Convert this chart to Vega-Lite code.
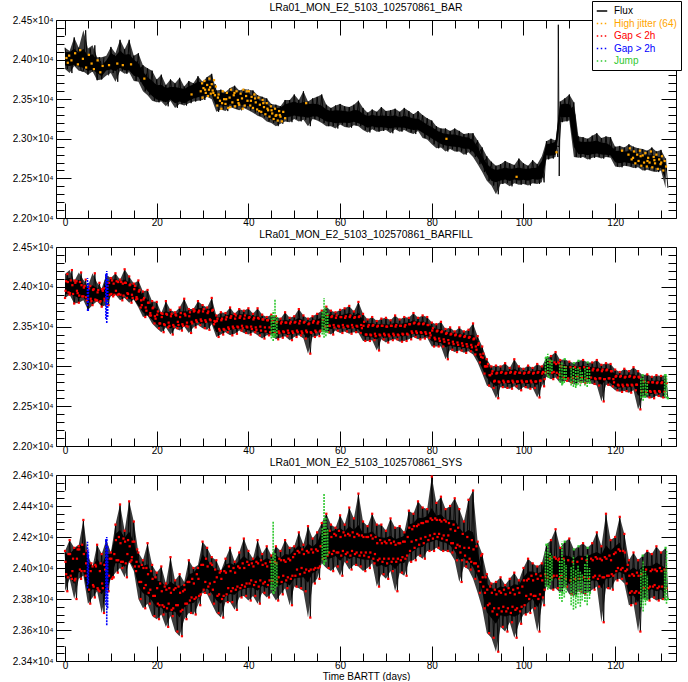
{
  "$schema": "https://vega.github.io/schema/vega-lite/v6.json",
  "background": "white",
  "padding": {"left": 12, "top": 0, "right": 0, "bottom": 0},
  "bounds": "flush",
  "spacing": 29,
  "config": {
    "view": {"stroke": null},
    "font": "Liberation Sans",
    "axis": {"labelFont": "Liberation Sans", "labelFontSize": 10, "labelColor": "black", "domainColor": "black", "tickColor": "black", "grid": false, "title": null, "domainWidth": 1, "tickWidth": 1},
    "title": {"font": "Liberation Sans", "fontSize": 10.4, "fontWeight": "normal", "color": "black", "offset": 2}
  },
  "datasets": {
    "flux": [
      {"t":0,"a":24150,"b":23860,"c":24110},{"t":0.5,"a":23880,"b":24160,"c":23850},{"t":1,"a":24090,"b":23900,"c":24180},{"t":1.5,"a":23830,"b":24210,"c":23930},
      {"t":2,"a":24280,"b":23790,"c":24130},{"t":2.5,"a":23940,"b":24070,"c":23800},{"t":3,"a":24150,"b":23800,"c":24140},{"t":3.5,"a":23860,"b":24180,"c":23930},
      {"t":4,"a":23850,"b":23880,"c":24310},{"t":4.5,"a":24370,"b":24090,"c":23950},{"t":5,"a":23810,"b":23710,"c":24080,"k":"Gap > 2h"},{"t":5.5,"a":24140,"b":24010,"c":23770},
      {"t":6,"a":23850,"b":23770,"c":24010},{"t":6.5,"a":24180,"b":24170,"c":23810},{"t":7,"a":23740,"b":23830,"c":24150},{"t":7.5,"a":24030,"b":24050,"c":23850},
      {"t":8,"a":23750,"b":23750,"c":24090},{"t":8.5,"a":24030,"b":23980,"c":23710},{"t":9,"a":null,"b":24150,"c":24180,"k":"Gap > 2h"},{"t":9.5,"a":23800,"b":23770,"c":23850},
      {"t":10,"a":24160,"b":24110,"c":24100},{"t":10.5,"a":23830,"b":23880,"c":23940},{"t":11,"a":24030,"b":24170,"c":24280},{"t":11.5,"a":23720,"b":23900,"c":23970},
      {"t":12,"a":24250,"b":24090,"c":24410},{"t":12.5,"a":23860,"b":23830,"c":24000},{"t":13,"a":24130,"b":24220,"c":24240},{"t":13.5,"a":23820,"b":23860,"c":23940},
      {"t":14,"a":24250,"b":24130,"c":24430},{"t":14.5,"a":23840,"b":23800,"c":24050},{"t":15,"a":24050,"b":24040,"c":24300},{"t":15.5,"a":23730,"b":23840,"c":23980},
      {"t":16,"a":24080,"b":24080,"c":24100},{"t":16.5,"a":23720,"b":23740,"c":23800},{"t":17,"a":23930,"b":23940,"c":24050},{"t":17.5,"a":23600,"b":23620,"c":23740},
      {"t":18,"a":23890,"b":23960,"c":24160},{"t":18.5,"a":23550,"b":23640,"c":23770},{"t":19,"a":23860,"b":23820,"c":24020},{"t":19.5,"a":23480,"b":23540,"c":23690},
      {"t":20,"a":23750,"b":23810,"c":23970},{"t":20.5,"a":23460,"b":23480,"c":23670},{"t":21,"a":23810,"b":23670,"c":24010},{"t":21.5,"a":23470,"b":23430,"c":23700},
      {"t":22,"a":23680,"b":23820,"c":23900},{"t":22.5,"a":23410,"b":23490,"c":23620},{"t":23,"a":23750,"b":23710,"c":24070},{"t":23.5,"a":23480,"b":23400,"c":23690},
      {"t":24,"a":23700,"b":23680,"c":23920},{"t":24.5,"a":23390,"b":23480,"c":23590},{"t":25,"a":23770,"b":23740,"c":23960},{"t":25.5,"a":23440,"b":23450,"c":23560},
      {"t":26,"a":23660,"b":23850,"c":23890},{"t":26.5,"a":23420,"b":23510,"c":23670},{"t":27,"a":23730,"b":23720,"c":24050},{"t":27.5,"a":23450,"b":23420,"c":23710},
      {"t":28,"a":23700,"b":23720,"c":24000},{"t":28.5,"a":23470,"b":23490,"c":23700},{"t":29,"a":23790,"b":23820,"c":24000},{"t":29.5,"a":23480,"b":23520,"c":23760},
      {"t":30,"a":23720,"b":23770,"c":24170},{"t":30.5,"a":23490,"b":23480,"c":23840},{"t":31,"a":23780,"b":23740,"c":24130},{"t":31.5,"a":23530,"b":23460,"c":23830},
      {"t":32,"a":23820,"b":23860,"c":24070},{"t":32.5,"a":23500,"b":23530,"c":23770},{"t":33,"a":23610,"b":23640,"c":24050},{"t":33.5,"a":23340,"b":23370,"c":23710},
      {"t":34,"a":23620,"b":23680,"c":23980},{"t":34.5,"a":23370,"b":23400,"c":23680},{"t":35,"a":23590,"b":23670,"c":24060},{"t":35.5,"a":23350,"b":23430,"c":23780},
      {"t":36,"a":23640,"b":23740,"c":24130},{"t":36.5,"a":23400,"b":23390,"c":23780},{"t":37,"a":23670,"b":23660,"c":24040},{"t":37.5,"a":23380,"b":23410,"c":23730},
      {"t":38,"a":23610,"b":23720,"c":24100},{"t":38.5,"a":23360,"b":23450,"c":23810},{"t":39,"a":23630,"b":23700,"c":24190},{"t":39.5,"a":23390,"b":23420,"c":23820},
      {"t":40,"a":23620,"b":23730,"c":24110},{"t":40.5,"a":23360,"b":23400,"c":23790},{"t":41,"a":23610,"b":23660,"c":24060},{"t":41.5,"a":23330,"b":23430,"c":23820},
      {"t":42,"a":23550,"b":23730,"c":24180},{"t":42.5,"a":23290,"b":23390,"c":23770},{"t":43,"a":23530,"b":23650,"c":24090},{"t":43.5,"a":23270,"b":23350,"c":23840},
      {"t":44,"a":23510,"b":23620,"c":24140},{"t":44.5,"a":23220,"b":23390,"c":23810},{"t":45,"a":23440,"b":23650,"c":24080},{"t":45.5,"a":23200,"b":23390,"c":23840,"k":"Jump"},
      {"t":46,"a":23430,"b":23630,"c":24140},{"t":46.5,"a":23160,"b":23340,"c":23790},{"t":47,"a":23410,"b":23600,"c":24110},{"t":47.5,"a":23190,"b":23360,"c":23830},
      {"t":48,"a":23490,"b":23680,"c":24180},{"t":48.5,"a":23220,"b":23380,"c":23870},{"t":49,"a":23490,"b":23610,"c":24130},{"t":49.5,"a":23210,"b":23330,"c":23760},
      {"t":50,"a":23560,"b":23630,"c":24140},{"t":50.5,"a":23250,"b":23370,"c":23880},{"t":51,"a":23490,"b":23720,"c":24230},{"t":51.5,"a":23220,"b":23390,"c":23870},
      {"t":52,"a":23600,"b":23640,"c":24150},{"t":52.5,"a":23240,"b":23350,"c":23850},{"t":53,"a":23470,"b":23600,"c":24270},{"t":53.5,"a":23160,"b":23160,"c":23680},
      {"t":54,"a":23510,"b":23630,"c":24190},{"t":54.5,"a":23250,"b":23370,"c":23900},{"t":55,"a":23530,"b":23660,"c":24230},{"t":55.5,"a":23230,"b":23380,"c":23930},
      {"t":56,"a":23560,"b":23700,"c":24290},{"t":56.5,"a":23200,"b":23440,"c":24030,"k":"Jump"},{"t":57,"a":23430,"b":23750,"c":24350},{"t":57.5,"a":23160,"b":23430,"c":24000},
      {"t":58,"a":23390,"b":23700,"c":24280},{"t":58.5,"a":23160,"b":23400,"c":23980},{"t":59,"a":23420,"b":23680,"c":24260},{"t":59.5,"a":23130,"b":23450,"c":24010},
      {"t":60,"a":23440,"b":23710,"c":24340},{"t":60.5,"a":23180,"b":23420,"c":23950},{"t":61,"a":23410,"b":23730,"c":24280},{"t":61.5,"a":23150,"b":23440,"c":24040},
      {"t":62,"a":23400,"b":23760,"c":24390},{"t":62.5,"a":23140,"b":23410,"c":23990},{"t":63,"a":23430,"b":23690,"c":24320},{"t":63.5,"a":23170,"b":23430,"c":24020},
      {"t":64,"a":23480,"b":23810,"c":24480},{"t":64.5,"a":23160,"b":23420,"c":24010},{"t":65,"a":23390,"b":23660,"c":24300},{"t":65.5,"a":23110,"b":23320,"c":23980},
      {"t":66,"a":23330,"b":23590,"c":24270},{"t":66.5,"a":23080,"b":23320,"c":24000},{"t":67,"a":23370,"b":23620,"c":24350},{"t":67.5,"a":23120,"b":23330,"c":24030},
      {"t":68,"a":23340,"b":23570,"c":24280},{"t":68.5,"a":23090,"b":23200,"c":23880},{"t":69,"a":23400,"b":23600,"c":24280},{"t":69.5,"a":23100,"b":23340,"c":23960},
      {"t":70,"a":23350,"b":23610,"c":24240},{"t":70.5,"a":23110,"b":23300,"c":23930},{"t":71,"a":23360,"b":23580,"c":24320},{"t":71.5,"a":23070,"b":23330,"c":23980},
      {"t":72,"a":23380,"b":23640,"c":24260},{"t":72.5,"a":23120,"b":23340,"c":23850},{"t":73,"a":23340,"b":23590,"c":24270},{"t":73.5,"a":23090,"b":23310,"c":23970},
      {"t":74,"a":23390,"b":23620,"c":24230},{"t":74.5,"a":23110,"b":23320,"c":23950},{"t":75,"a":23350,"b":23610,"c":24370},{"t":75.5,"a":23080,"b":23340,"c":24040},
      {"t":76,"a":23310,"b":23670,"c":24350},{"t":76.5,"a":23060,"b":23370,"c":24050},{"t":77,"a":23350,"b":23610,"c":24430},{"t":77.5,"a":23100,"b":23340,"c":24080},
      {"t":78,"a":23300,"b":23640,"c":24390},{"t":78.5,"a":23010,"b":23350,"c":24060},{"t":79,"a":23260,"b":23620,"c":24380},{"t":79.5,"a":22990,"b":23360,"c":24110},
      {"t":80,"a":23230,"b":23550,"c":24590},{"t":80.5,"a":22930,"b":23250,"c":24110},{"t":81,"a":23160,"b":23530,"c":24420},{"t":81.5,"a":22880,"b":23250,"c":24130},
      {"t":82,"a":23130,"b":23560,"c":24460},{"t":82.5,"a":22890,"b":23250,"c":24110},{"t":83,"a":23130,"b":23470,"c":24380},{"t":83.5,"a":22840,"b":23090,"c":24110},
      {"t":84,"a":23100,"b":23490,"c":24400},{"t":84.5,"a":22870,"b":23210,"c":24100},{"t":85,"a":23130,"b":23440,"c":24450},{"t":85.5,"a":22840,"b":23180,"c":24050},
      {"t":86,"a":23100,"b":23490,"c":24380},{"t":86.5,"a":22840,"b":23200,"c":23910},{"t":87,"a":23060,"b":23440,"c":24300},{"t":87.5,"a":22800,"b":23170,"c":24010},
      {"t":88,"a":23070,"b":23460,"c":24440},{"t":88.5,"a":22830,"b":23190,"c":23990},{"t":89,"a":23070,"b":23540,"c":24500},{"t":89.5,"a":22770,"b":23150,"c":23930},
      {"t":90,"a":22980,"b":23380,"c":24170},{"t":90.5,"a":22680,"b":23050,"c":23840},{"t":91,"a":22890,"b":23250,"c":24090},{"t":91.5,"a":22580,"b":22910,"c":23740},
      {"t":92,"a":22780,"b":23090,"c":23960},{"t":92.5,"a":22470,"b":22760,"c":23580},{"t":93,"a":22710,"b":23000,"c":23900},{"t":93.5,"a":22410,"b":22730,"c":23550},
      {"t":94,"a":22660,"b":23010,"c":23910},{"t":94.5,"a":22300,"b":22600,"c":23460},{"t":95,"a":22680,"b":23000,"c":23940},{"t":95.5,"a":22430,"b":22740,"c":23620},
      {"t":96,"a":22720,"b":23040,"c":23890},{"t":96.5,"a":22440,"b":22730,"c":23590},{"t":97,"a":22690,"b":22980,"c":23930},{"t":97.5,"a":22400,"b":22720,"c":23650},
      {"t":98,"a":22670,"b":23090,"c":23970},{"t":98.5,"a":22440,"b":22750,"c":23550},{"t":99,"a":22750,"b":23000,"c":23920},{"t":99.5,"a":22420,"b":22700,"c":23640},
      {"t":100,"a":22690,"b":22970,"c":24000},{"t":100.5,"a":22430,"b":22740,"c":23700},{"t":101,"a":22660,"b":23010,"c":24060},{"t":101.5,"a":22410,"b":22720,"c":23710},
      {"t":102,"a":22730,"b":22980,"c":24030},{"t":102.5,"a":22440,"b":22730,"c":23740},{"t":103,"a":22680,"b":23030,"c":24010},{"t":103.5,"a":22430,"b":22610,"c":23590},
      {"t":104,"a":22700,"b":23000,"c":24030},{"t":104.5,"a":22450,"b":22750,"c":23760},{"t":105,"a":22970,"b":23110,"c":24150,"k":"Jump"},{"t":105.5,"a":22740,"b":22870,"c":23880,"k":"Jump"},
      {"t":106,"a":23000,"b":23130,"c":24180},{"t":106.5,"a":22750,"b":22840,"c":23860},{"t":107,"a":22980,"b":23180,"c":24250},{"t":107.5,"a":22770,"b":22860,"c":23870},
      {"t":107.6,"a":24440,"b":23050,"c":24050},{"t":107.8,"a":22530,"b":22900,"c":23930},
      {"t":108,"a":23470,"b":23080,"c":24130},{"t":108.5,"a":23210,"b":22790,"c":23840,"k":"Jump"},{"t":109,"a":23510,"b":23090,"c":24170,"k":"Jump"},{"t":109.5,"a":23220,"b":22820,"c":23880},
      {"t":110,"a":23560,"b":23060,"c":24190},{"t":110.5,"a":23230,"b":22800,"c":23830},{"t":111,"a":23460,"b":23040,"c":24120,"k":"Jump"},{"t":111.5,"a":22770,"b":22770,"c":23820,"k":"Jump"},
      {"t":112,"a":23030,"b":23070,"c":24140,"k":"Jump"},{"t":112.5,"a":22760,"b":22800,"c":23850},{"t":113,"a":23020,"b":23080,"c":24160},{"t":113.5,"a":22770,"b":22790,"c":23830},
      {"t":114,"a":23000,"b":23050,"c":24130,"k":"Jump"},{"t":114.5,"a":22740,"b":22800,"c":23840,"k":"Jump"},{"t":115,"a":23040,"b":23050,"c":24160},{"t":115.5,"a":22760,"b":22780,"c":23860},
      {"t":116,"a":23070,"b":23080,"c":24230},{"t":116.5,"a":22770,"b":22760,"c":23880},{"t":117,"a":23010,"b":23020,"c":24140},{"t":117.5,"a":22750,"b":22560,"c":23650},
      {"t":118,"a":23030,"b":23040,"c":24350},{"t":118.5,"a":22770,"b":22770,"c":23870},{"t":119,"a":23020,"b":23030,"c":24180},{"t":119.5,"a":22760,"b":22750,"c":23860},
      {"t":120,"a":22900,"b":22960,"c":24200},{"t":120.5,"a":22650,"b":22700,"c":23920},{"t":121,"a":22910,"b":22930,"c":24330},{"t":121.5,"a":22640,"b":22680,"c":23930},
      {"t":122,"a":22890,"b":22970,"c":24220},{"t":122.5,"a":22660,"b":22690,"c":23900},{"t":123,"a":22930,"b":22940,"c":24050},{"t":123.5,"a":22650,"b":22670,"c":23760},
      {"t":124,"a":22900,"b":22990,"c":24100},{"t":124.5,"a":22630,"b":22700,"c":23770},{"t":125,"a":22880,"b":22940,"c":24050},{"t":125.5,"a":22640,"b":22460,"c":23590},
      {"t":126,"a":22870,"b":22890,"c":24080,"k":"Jump"},{"t":126.5,"a":22600,"b":22620,"c":23800,"k":"Jump"},{"t":127,"a":22850,"b":22900,"c":24110},{"t":127.5,"a":22610,"b":22610,"c":23790},
      {"t":128,"a":22890,"b":22870,"c":24090},{"t":128.5,"a":22590,"b":22600,"c":23810},{"t":129,"a":22840,"b":22890,"c":24140},{"t":129.5,"a":22580,"b":22630,"c":23790},
      {"t":130,"a":22860,"b":22880,"c":24100},{"t":130.5,"a":22600,"b":22610,"c":23800},{"t":131,"a":22750,"b":22890,"c":24130,"k":"Jump"},{"t":131.5,"a":22380,"b":22600,"c":23800,"k":"Jump"},

      {"s":2,"t":0.25,"a":23940,"b":24070,"c":23960},{"s":2,"t":0.75,"a":24080,"b":23930,"c":24090},{"s":2,"t":1.25,"a":23950,"b":24080,"c":23950},{"s":2,"t":1.75,"a":24110,"b":23910,"c":24060},
      {"s":2,"t":2.25,"a":23920,"b":24050,"c":23930},{"s":2,"t":2.75,"a":24090,"b":23920,"c":24120},{"s":2,"t":3.25,"a":23930,"b":24060,"c":23990},{"s":2,"t":3.75,"a":24060,"b":23880,"c":24150},
      {"s":2,"t":4.25,"a":23910,"b":24010,"c":23980},{"s":2,"t":4.75,"a":24060,"b":23830,"c":24110},{"s":2,"t":5.25,"a":23870,"b":23980,"c":23860},{"s":2,"t":5.75,"a":24020,"b":23820,"c":24030},
      {"s":2,"t":6.25,"a":23880,"b":23970,"c":23880},{"s":2,"t":6.75,"a":24030,"b":23830,"c":24010},{"s":2,"t":7.25,"a":23860,"b":23960,"c":23860},{"s":2,"t":7.75,"a":23980,"b":23820,"c":24030},
      {"s":2,"t":8.25,"a":23830,"b":23950,"c":23870},{"s":2,"t":8.75,"a":null,"b":23830,"c":23990},{"s":2,"t":9.25,"a":null,"b":24010,"c":23880},{"s":2,"t":9.75,"a":24050,"b":23900,"c":24060},
      {"s":2,"t":10.25,"a":23890,"b":24080,"c":23930},{"s":2,"t":10.75,"a":24060,"b":23900,"c":24090},{"s":2,"t":11.25,"a":23900,"b":24070,"c":24050},{"s":2,"t":11.75,"a":24080,"b":23910,"c":24200},
      {"s":2,"t":12.25,"a":23910,"b":24060,"c":24040},{"s":2,"t":12.75,"a":24070,"b":23890,"c":24190},{"s":2,"t":13.25,"a":23880,"b":24050,"c":24030},{"s":2,"t":13.75,"a":24040,"b":23910,"c":24180},
      {"s":2,"t":14.25,"a":23870,"b":24030,"c":24040},{"s":2,"t":14.75,"a":24010,"b":23860,"c":24170},{"s":2,"t":15.25,"a":23820,"b":24010,"c":24010},{"s":2,"t":15.75,"a":23980,"b":23850,"c":24120},
      {"s":2,"t":16.25,"a":23800,"b":23960,"c":23910},{"s":2,"t":16.75,"a":23910,"b":23770,"c":24020},{"s":2,"t":17.25,"a":23700,"b":23860,"c":23870},{"s":2,"t":17.75,"a":23820,"b":23700,"c":24000},
      {"s":2,"t":18.25,"a":23620,"b":23800,"c":23840},{"s":2,"t":18.75,"a":23740,"b":23640,"c":23980},{"s":2,"t":19.25,"a":23560,"b":23740,"c":23820},{"s":2,"t":19.75,"a":23690,"b":23600,"c":23940},
      {"s":2,"t":20.25,"a":23510,"b":23690,"c":23770},{"s":2,"t":20.75,"a":23650,"b":23540,"c":23900},{"s":2,"t":21.25,"a":23490,"b":23660,"c":23760},{"s":2,"t":21.75,"a":23640,"b":23520,"c":23880},
      {"s":2,"t":22.25,"a":23480,"b":23650,"c":23740},{"s":2,"t":22.75,"a":23630,"b":23510,"c":23870},{"s":2,"t":23.25,"a":23500,"b":23660,"c":23730},{"s":2,"t":23.75,"a":23620,"b":23500,"c":23860},
      {"s":2,"t":24.25,"a":23470,"b":23640,"c":23760},{"s":2,"t":24.75,"a":23640,"b":23520,"c":23880},{"s":2,"t":25.25,"a":23480,"b":23670,"c":23720},{"s":2,"t":25.75,"a":23600,"b":23510,"c":23850},
      {"s":2,"t":26.25,"a":23460,"b":23640,"c":23770},{"s":2,"t":26.75,"a":23620,"b":23500,"c":23910},{"s":2,"t":27.25,"a":23490,"b":23680,"c":23790},{"s":2,"t":27.75,"a":23640,"b":23540,"c":23930},
      {"s":2,"t":28.25,"a":23520,"b":23700,"c":23800},{"s":2,"t":28.75,"a":23680,"b":23560,"c":23960},{"s":2,"t":29.25,"a":23540,"b":23700,"c":23820},{"s":2,"t":29.75,"a":23700,"b":23570,"c":24020},
      {"s":2,"t":30.25,"a":23560,"b":23720,"c":23860},{"s":2,"t":30.75,"a":23700,"b":23560,"c":24060},{"s":2,"t":31.25,"a":23560,"b":23690,"c":23880},{"s":2,"t":31.75,"a":23720,"b":23580,"c":24030},
      {"s":2,"t":32.25,"a":23570,"b":23710,"c":23860},{"s":2,"t":32.75,"a":23690,"b":23560,"c":23990},{"s":2,"t":33.25,"a":23430,"b":23600,"c":23820},{"s":2,"t":33.75,"a":23560,"b":23450,"c":23970},
      {"s":2,"t":34.25,"a":23440,"b":23600,"c":23800},{"s":2,"t":34.75,"a":23570,"b":23460,"c":23980},{"s":2,"t":35.25,"a":23430,"b":23620,"c":23830},{"s":2,"t":35.75,"a":23560,"b":23470,"c":24010},
      {"s":2,"t":36.25,"a":23450,"b":23630,"c":23850},{"s":2,"t":36.75,"a":23580,"b":23480,"c":24000},{"s":2,"t":37.25,"a":23440,"b":23640,"c":23860},{"s":2,"t":37.75,"a":23580,"b":23490,"c":24010},
      {"s":2,"t":38.25,"a":23450,"b":23630,"c":23870},{"s":2,"t":38.75,"a":23570,"b":23480,"c":24030},{"s":2,"t":39.25,"a":23440,"b":23640,"c":23880},{"s":2,"t":39.75,"a":23570,"b":23490,"c":24040},
      {"s":2,"t":40.25,"a":23430,"b":23620,"c":23900},{"s":2,"t":40.75,"a":23550,"b":23470,"c":24030},{"s":2,"t":41.25,"a":23400,"b":23610,"c":23890},{"s":2,"t":41.75,"a":23520,"b":23460,"c":24040},
      {"s":2,"t":42.25,"a":23360,"b":23600,"c":23880},{"s":2,"t":42.75,"a":23480,"b":23450,"c":24050},{"s":2,"t":43.25,"a":23330,"b":23590,"c":23900},{"s":2,"t":43.75,"a":23450,"b":23440,"c":24030},
      {"s":2,"t":44.25,"a":23300,"b":23580,"c":23890},{"s":2,"t":44.75,"a":23410,"b":23430,"c":24040},{"s":2,"t":45.25,"a":23260,"b":23570,"c":23920},{"s":2,"t":45.75,"a":23380,"b":23420,"c":24040},
      {"s":2,"t":46.25,"a":23240,"b":23560,"c":23910},{"s":2,"t":46.75,"a":23370,"b":23420,"c":24060},{"s":2,"t":47.25,"a":23260,"b":23560,"c":23910},{"s":2,"t":47.75,"a":23390,"b":23430,"c":24050},
      {"s":2,"t":48.25,"a":23290,"b":23550,"c":23920},{"s":2,"t":48.75,"a":23420,"b":23420,"c":24060},{"s":2,"t":49.25,"a":23300,"b":23560,"c":23930},{"s":2,"t":49.75,"a":23440,"b":23420,"c":24070},
      {"s":2,"t":50.25,"a":23310,"b":23560,"c":23950},{"s":2,"t":50.75,"a":23440,"b":23430,"c":24110},{"s":2,"t":51.25,"a":23300,"b":23570,"c":23960},{"s":2,"t":51.75,"a":23430,"b":23420,"c":24120},
      {"s":2,"t":52.25,"a":23290,"b":23560,"c":23970},{"s":2,"t":52.75,"a":23420,"b":23430,"c":24110},{"s":2,"t":53.25,"a":23300,"b":23540,"c":23980},{"s":2,"t":53.75,"a":23430,"b":23420,"c":24120},
      {"s":2,"t":54.25,"a":23290,"b":23570,"c":23990},{"s":2,"t":54.75,"a":23420,"b":23430,"c":24120},{"s":2,"t":55.25,"a":23300,"b":23560,"c":24000},{"s":2,"t":55.75,"a":23410,"b":23450,"c":24140},
      {"s":2,"t":56.25,"a":23270,"b":23590,"c":24060},{"s":2,"t":56.75,"a":23370,"b":23500,"c":24220},{"s":2,"t":57.25,"a":23240,"b":23640,"c":24080},{"s":2,"t":57.75,"a":23350,"b":23510,"c":24240},
      {"s":2,"t":58.25,"a":23230,"b":23630,"c":24090},{"s":2,"t":58.75,"a":23340,"b":23490,"c":24220},{"s":2,"t":59.25,"a":23220,"b":23640,"c":24100},{"s":2,"t":59.75,"a":23340,"b":23500,"c":24240},
      {"s":2,"t":60.25,"a":23210,"b":23620,"c":24080},{"s":2,"t":60.75,"a":23330,"b":23490,"c":24230},{"s":2,"t":61.25,"a":23220,"b":23630,"c":24090},{"s":2,"t":61.75,"a":23330,"b":23500,"c":24220},
      {"s":2,"t":62.25,"a":23220,"b":23640,"c":24080},{"s":2,"t":62.75,"a":23320,"b":23490,"c":24230},{"s":2,"t":63.25,"a":23230,"b":23620,"c":24090},{"s":2,"t":63.75,"a":23340,"b":23500,"c":24220},
      {"s":2,"t":64.25,"a":23210,"b":23630,"c":24080},{"s":2,"t":64.75,"a":23320,"b":23480,"c":24210},{"s":2,"t":65.25,"a":23190,"b":23560,"c":24080},{"s":2,"t":65.75,"a":23290,"b":23400,"c":24200},
      {"s":2,"t":66.25,"a":23160,"b":23520,"c":24070},{"s":2,"t":66.75,"a":23270,"b":23390,"c":24210},{"s":2,"t":67.25,"a":23170,"b":23520,"c":24060},{"s":2,"t":67.75,"a":23280,"b":23380,"c":24200},
      {"s":2,"t":68.25,"a":23160,"b":23510,"c":24050},{"s":2,"t":68.75,"a":23270,"b":23390,"c":24180},{"s":2,"t":69.25,"a":23160,"b":23510,"c":24040},{"s":2,"t":69.75,"a":23260,"b":23390,"c":24170},
      {"s":2,"t":70.25,"a":23150,"b":23500,"c":24030},{"s":2,"t":70.75,"a":23270,"b":23380,"c":24180},{"s":2,"t":71.25,"a":23150,"b":23510,"c":24040},{"s":2,"t":71.75,"a":23260,"b":23390,"c":24170},
      {"s":2,"t":72.25,"a":23150,"b":23520,"c":24040},{"s":2,"t":72.75,"a":23270,"b":23390,"c":24160},{"s":2,"t":73.25,"a":23160,"b":23510,"c":24050},{"s":2,"t":73.75,"a":23250,"b":23400,"c":24170},
      {"s":2,"t":74.25,"a":23150,"b":23520,"c":24060},{"s":2,"t":74.75,"a":23260,"b":23400,"c":24200},{"s":2,"t":75.25,"a":23140,"b":23530,"c":24110},{"s":2,"t":75.75,"a":23250,"b":23420,"c":24250},
      {"s":2,"t":76.25,"a":23130,"b":23550,"c":24130},{"s":2,"t":76.75,"a":23240,"b":23420,"c":24270},{"s":2,"t":77.25,"a":23120,"b":23540,"c":24150},{"s":2,"t":77.75,"a":23220,"b":23420,"c":24290},
      {"s":2,"t":78.25,"a":23100,"b":23540,"c":24160},{"s":2,"t":78.75,"a":23190,"b":23410,"c":24300},{"s":2,"t":79.25,"a":23060,"b":23520,"c":24180},{"s":2,"t":79.75,"a":23150,"b":23390,"c":24320},
      {"s":2,"t":80.25,"a":23030,"b":23480,"c":24190},{"s":2,"t":80.75,"a":23120,"b":23340,"c":24320},{"s":2,"t":81.25,"a":23000,"b":23450,"c":24200},{"s":2,"t":81.75,"a":23090,"b":23320,"c":24310},
      {"s":2,"t":82.25,"a":22950,"b":23440,"c":24190},{"s":2,"t":82.75,"a":23060,"b":23310,"c":24310},{"s":2,"t":83.25,"a":22940,"b":23420,"c":24180},{"s":2,"t":83.75,"a":23040,"b":23290,"c":24290},
      {"s":2,"t":84.25,"a":22920,"b":23410,"c":24160},{"s":2,"t":84.75,"a":23040,"b":23280,"c":24280},{"s":2,"t":85.25,"a":22920,"b":23400,"c":24130},{"s":2,"t":85.75,"a":23030,"b":23270,"c":24260},
      {"s":2,"t":86.25,"a":22910,"b":23390,"c":24100},{"s":2,"t":86.75,"a":23020,"b":23260,"c":24220},{"s":2,"t":87.25,"a":22900,"b":23380,"c":24080},{"s":2,"t":87.75,"a":23010,"b":23250,"c":24200},
      {"s":2,"t":88.25,"a":22890,"b":23370,"c":24060},{"s":2,"t":88.75,"a":23000,"b":23240,"c":24180},{"s":2,"t":89.25,"a":22860,"b":23350,"c":24030},{"s":2,"t":89.75,"a":22950,"b":23210,"c":24140},
      {"s":2,"t":90.25,"a":22790,"b":23290,"c":23980},{"s":2,"t":90.75,"a":22870,"b":23120,"c":24080},{"s":2,"t":91.25,"a":22700,"b":23160,"c":23880},{"s":2,"t":91.75,"a":22740,"b":23000,"c":23940},
      {"s":2,"t":92.25,"a":22580,"b":23030,"c":23760},{"s":2,"t":92.75,"a":22650,"b":22890,"c":23880},{"s":2,"t":93.25,"a":22490,"b":22940,"c":23720},{"s":2,"t":93.75,"a":22600,"b":22820,"c":23860},
      {"s":2,"t":94.25,"a":22500,"b":22920,"c":23700},{"s":2,"t":94.75,"a":22590,"b":22800,"c":23850},{"s":2,"t":95.25,"a":22490,"b":22930,"c":23720},{"s":2,"t":95.75,"a":22600,"b":22800,"c":23860},
      {"s":2,"t":96.25,"a":22500,"b":22920,"c":23720},{"s":2,"t":96.75,"a":22610,"b":22810,"c":23870},{"s":2,"t":97.25,"a":22490,"b":22930,"c":23710},{"s":2,"t":97.75,"a":22600,"b":22800,"c":23860},
      {"s":2,"t":98.25,"a":22500,"b":22930,"c":23730},{"s":2,"t":98.75,"a":22610,"b":22810,"c":23870},{"s":2,"t":99.25,"a":22490,"b":22920,"c":23720},{"s":2,"t":99.75,"a":22600,"b":22800,"c":23880},
      {"s":2,"t":100.25,"a":22500,"b":22920,"c":23760},{"s":2,"t":100.75,"a":22600,"b":22810,"c":23920},{"s":2,"t":101.25,"a":22490,"b":22930,"c":23800},{"s":2,"t":101.75,"a":22610,"b":22800,"c":23950},
      {"s":2,"t":102.25,"a":22510,"b":22920,"c":23820},{"s":2,"t":102.75,"a":22600,"b":22810,"c":23960},{"s":2,"t":103.25,"a":22500,"b":22930,"c":23800},{"s":2,"t":103.75,"a":22620,"b":22820,"c":23950},
      {"s":2,"t":104.25,"a":22510,"b":22930,"c":23810},{"s":2,"t":104.75,"a":22780,"b":22920,"c":23960},{"s":2,"t":105.25,"a":22920,"b":22930,"c":23940},{"s":2,"t":105.75,"a":22810,"b":23060,"c":24060},
      {"s":2,"t":106.25,"a":22920,"b":22920,"c":23940},{"s":2,"t":106.75,"a":22800,"b":23050,"c":24070},{"s":2,"t":107.25,"a":22910,"b":22920,"c":23950},{"s":2,"t":107.75,"a":22900,"b":23040,"c":24060},
      {"s":2,"t":108.25,"a":23300,"b":23000,"c":23950},{"s":2,"t":108.75,"a":23420,"b":22860,"c":24060},{"s":2,"t":109.25,"a":23290,"b":22990,"c":23930},{"s":2,"t":109.75,"a":23420,"b":22850,"c":24050},
      {"s":2,"t":110.25,"a":23290,"b":22990,"c":23920},{"s":2,"t":110.75,"a":23400,"b":22860,"c":24040},{"s":2,"t":111.25,"a":23300,"b":22990,"c":23930},{"s":2,"t":111.75,"a":22940,"b":22870,"c":24040},
      {"s":2,"t":112.25,"a":22820,"b":22980,"c":23930},{"s":2,"t":112.75,"a":22950,"b":22860,"c":24060},{"s":2,"t":113.25,"a":22820,"b":22990,"c":23940},{"s":2,"t":113.75,"a":22940,"b":22850,"c":24050},
      {"s":2,"t":114.25,"a":22810,"b":22980,"c":23930},{"s":2,"t":114.75,"a":22950,"b":22860,"c":24060},{"s":2,"t":115.25,"a":22820,"b":22970,"c":23940},{"s":2,"t":115.75,"a":22940,"b":22840,"c":24070},
      {"s":2,"t":116.25,"a":22830,"b":22960,"c":23930},{"s":2,"t":116.75,"a":22950,"b":22850,"c":24060},{"s":2,"t":117.25,"a":22820,"b":22960,"c":23940},{"s":2,"t":117.75,"a":22930,"b":22840,"c":24070},
      {"s":2,"t":118.25,"a":22810,"b":22960,"c":23950},{"s":2,"t":118.75,"a":22920,"b":22850,"c":24080},{"s":2,"t":119.25,"a":22800,"b":22940,"c":23960},{"s":2,"t":119.75,"a":22880,"b":22800,"c":24090},
      {"s":2,"t":120.25,"a":22720,"b":22880,"c":23980},{"s":2,"t":120.75,"a":22830,"b":22760,"c":24120},{"s":2,"t":121.25,"a":22710,"b":22880,"c":23990},{"s":2,"t":121.75,"a":22830,"b":22750,"c":24110},
      {"s":2,"t":122.25,"a":22720,"b":22870,"c":23980},{"s":2,"t":122.75,"a":22820,"b":22760,"c":24020},{"s":2,"t":123.25,"a":22710,"b":22880,"c":23840},{"s":2,"t":123.75,"a":22820,"b":22760,"c":23960},
      {"s":2,"t":124.25,"a":22700,"b":22870,"c":23840},{"s":2,"t":124.75,"a":22820,"b":22770,"c":23970},{"s":2,"t":125.25,"a":22690,"b":22860,"c":23840},{"s":2,"t":125.75,"a":22780,"b":22690,"c":23960},
      {"s":2,"t":126.25,"a":22660,"b":22810,"c":23870},{"s":2,"t":126.75,"a":22770,"b":22680,"c":23990},{"s":2,"t":127.25,"a":22660,"b":22800,"c":23870},{"s":2,"t":127.75,"a":22770,"b":22680,"c":23980},
      {"s":2,"t":128.25,"a":22660,"b":22800,"c":23880},{"s":2,"t":128.75,"a":22760,"b":22670,"c":23990},{"s":2,"t":129.25,"a":22650,"b":22800,"c":23870},{"s":2,"t":129.75,"a":22760,"b":22680,"c":24000},
      {"s":2,"t":130.25,"a":22640,"b":22800,"c":23880},{"s":2,"t":130.75,"a":22730,"b":22680,"c":23990},{"s":2,"t":131.25,"a":22600,"b":22790,"c":23870}
    ],
    "fills": [
      {"t":0.1,"b":23950,"c":24040},{"t":0.6,"b":24060,"c":23940},{"t":1.1,"b":23920,"c":24090},{"t":1.6,"b":24020,"c":23980},{"t":2.1,"b":24080,"c":23920},{"t":2.6,"b":23950,"c":24060},
      {"t":3.1,"b":23890,"c":24120},{"t":3.6,"b":24020,"c":23980},{"t":4.1,"b":23990,"c":24090},{"t":4.6,"b":23870,"c":24030},{"t":5.6,"b":23850,"c":23980},{"t":6.1,"b":23960,"c":23890},
      {"t":6.6,"b":23840,"c":24020},{"t":7.1,"b":23930,"c":23870},{"t":7.6,"b":23810,"c":23980},{"t":8.1,"b":23970,"c":23900},{"t":8.6,"b":23850,"c":24020},{"t":9.6,"b":24050,"c":23950},
      {"t":10.1,"b":23910,"c":24060},{"t":10.6,"b":24040,"c":23940},{"t":11.1,"b":23950,"c":24180},{"t":11.6,"b":24060,"c":24050},{"t":12.1,"b":23900,"c":24160},{"t":12.6,"b":24040,"c":24040},
      {"t":13.1,"b":24050,"c":24170},{"t":13.6,"b":23920,"c":24090},{"t":14.1,"b":24020,"c":24140},{"t":14.6,"b":23900,"c":24070},{"t":15.1,"b":23970,"c":24170},{"t":15.6,"b":23870,"c":24040},
      {"t":16.1,"b":23940,"c":24010},{"t":16.6,"b":23830,"c":23910},{"t":17.1,"b":23840,"c":24000},{"t":17.6,"b":23740,"c":23890},{"t":18.1,"b":23800,"c":23960},{"t":18.6,"b":23670,"c":23860},
      {"t":19.1,"b":23730,"c":23930},{"t":19.6,"b":23630,"c":23820},{"t":20.1,"b":23650,"c":23870},{"t":20.6,"b":23540,"c":23760},{"t":21.1,"b":23620,"c":23850},{"t":21.6,"b":23530,"c":23750},
      {"t":22.1,"b":23660,"c":23860},{"t":22.6,"b":23550,"c":23770},{"t":23.1,"b":23630,"c":23840},{"t":23.6,"b":23520,"c":23740},{"t":24.1,"b":23650,"c":23870},{"t":24.6,"b":23560,"c":23760},
      {"t":25.1,"b":23620,"c":23840},{"t":25.6,"b":23530,"c":23730},{"t":26.1,"b":23660,"c":23860},{"t":26.6,"b":23550,"c":23770},{"t":27.1,"b":23630,"c":23910},{"t":27.6,"b":23560,"c":23810},
      {"t":28.1,"b":23690,"c":23900},{"t":28.6,"b":23580,"c":23810},{"t":29.1,"b":23680,"c":23930},{"t":29.6,"b":23590,"c":23830},{"t":30.1,"b":23690,"c":24020},{"t":30.6,"b":23580,"c":23910},
      {"t":31.1,"b":23670,"c":24010},{"t":31.6,"b":23590,"c":23900},{"t":32.1,"b":23700,"c":24020},{"t":32.6,"b":23570,"c":23910},{"t":33.1,"b":23570,"c":23940},{"t":33.6,"b":23470,"c":23830},
      {"t":34.1,"b":23580,"c":23930},{"t":34.6,"b":23470,"c":23820},{"t":35.1,"b":23590,"c":23970},{"t":35.6,"b":23490,"c":23870},{"t":36.1,"b":23610,"c":23980},{"t":36.6,"b":23500,"c":23870},
      {"t":37.1,"b":23600,"c":23970},{"t":37.6,"b":23500,"c":23880},{"t":38.1,"b":23610,"c":24000},{"t":38.6,"b":23510,"c":23890},{"t":39.1,"b":23600,"c":24000},{"t":39.6,"b":23500,"c":23900},
      {"t":40.1,"b":23610,"c":24020},{"t":40.6,"b":23500,"c":23920},{"t":41.1,"b":23590,"c":24010},{"t":41.6,"b":23490,"c":23910},{"t":42.1,"b":23610,"c":24030},{"t":42.6,"b":23500,"c":23920},
      {"t":43.1,"b":23590,"c":24020},{"t":43.6,"b":23490,"c":23910},{"t":44.1,"b":23580,"c":24010},{"t":44.6,"b":23490,"c":23920},{"t":46.1,"b":23550,"c":24030},{"t":46.6,"b":23440,"c":23940},
      {"t":47.1,"b":23540,"c":24050},{"t":47.6,"b":23440,"c":23950},{"t":48.1,"b":23550,"c":24040},{"t":48.6,"b":23450,"c":23940},{"t":49.1,"b":23540,"c":24050},{"t":49.6,"b":23440,"c":23950},
      {"t":50.1,"b":23550,"c":24090},{"t":50.6,"b":23450,"c":23990},{"t":51.1,"b":23540,"c":24100},{"t":51.6,"b":23440,"c":24000},{"t":52.1,"b":23550,"c":24090},{"t":52.6,"b":23450,"c":23990},
      {"t":53.1,"b":23530,"c":24100},{"t":53.6,"b":23430,"c":23990},{"t":54.1,"b":23550,"c":24100},{"t":54.6,"b":23450,"c":24000},{"t":55.1,"b":23540,"c":24110},{"t":55.6,"b":23440,"c":24010},
      {"t":57.6,"b":23510,"c":24100},{"t":58.1,"b":23620,"c":24200},{"t":58.6,"b":23520,"c":24110},{"t":59.1,"b":23610,"c":24210},{"t":59.6,"b":23510,"c":24100},{"t":60.1,"b":23620,"c":24200},
      {"t":60.6,"b":23520,"c":24110},{"t":61.1,"b":23610,"c":24210},{"t":61.6,"b":23510,"c":24100},{"t":62.1,"b":23620,"c":24210},{"t":62.6,"b":23520,"c":24110},{"t":63.1,"b":23610,"c":24200},
      {"t":63.6,"b":23510,"c":24100},{"t":64.1,"b":23620,"c":24210},{"t":64.6,"b":23520,"c":24100},{"t":65.1,"b":23510,"c":24200},{"t":65.6,"b":23400,"c":24100},{"t":66.1,"b":23500,"c":24200},
      {"t":66.6,"b":23400,"c":24100},{"t":67.1,"b":23510,"c":24190},{"t":67.6,"b":23410,"c":24090},{"t":68.1,"b":23500,"c":24160},{"t":68.6,"b":23400,"c":24060},{"t":69.1,"b":23510,"c":24160},
      {"t":69.6,"b":23410,"c":24060},{"t":70.1,"b":23500,"c":24160},{"t":70.6,"b":23400,"c":24060},{"t":71.1,"b":23510,"c":24160},{"t":71.6,"b":23410,"c":24060},{"t":72.1,"b":23500,"c":24150},
      {"t":72.6,"b":23400,"c":24060},{"t":73.1,"b":23510,"c":24160},{"t":73.6,"b":23410,"c":24070},{"t":74.1,"b":23500,"c":24170},{"t":74.6,"b":23410,"c":24080},{"t":75.1,"b":23530,"c":24260},
      {"t":75.6,"b":23440,"c":24170},{"t":76.1,"b":23540,"c":24270},{"t":76.6,"b":23440,"c":24180},{"t":77.1,"b":23530,"c":24280},{"t":77.6,"b":23430,"c":24190},{"t":78.1,"b":23530,"c":24290},
      {"t":78.6,"b":23430,"c":24200},{"t":79.1,"b":23520,"c":24300},{"t":79.6,"b":23420,"c":24210},{"t":80.1,"b":23450,"c":24310},{"t":80.6,"b":23360,"c":24220},{"t":81.1,"b":23440,"c":24310},
      {"t":81.6,"b":23350,"c":24220},{"t":82.1,"b":23430,"c":24300},{"t":82.6,"b":23340,"c":24210},{"t":83.1,"b":23410,"c":24300},{"t":83.6,"b":23330,"c":24210},{"t":84.1,"b":23400,"c":24250},
      {"t":84.6,"b":23310,"c":24160},{"t":85.1,"b":23390,"c":24240},{"t":85.6,"b":23300,"c":24150},{"t":86.1,"b":23380,"c":24140},{"t":86.6,"b":23290,"c":24050},{"t":87.1,"b":23370,"c":24130},
      {"t":87.6,"b":23280,"c":24040},{"t":88.1,"b":23360,"c":24130},{"t":88.6,"b":23270,"c":24040},{"t":89.1,"b":23340,"c":24120},{"t":89.6,"b":23250,"c":24030},{"t":90.1,"b":23270,"c":24010},
      {"t":90.6,"b":23150,"c":23910},{"t":91.1,"b":23110,"c":23940},{"t":91.6,"b":23000,"c":23840},{"t":92.1,"b":23000,"c":23860},{"t":92.6,"b":22890,"c":23770},{"t":93.1,"b":22910,"c":23840},
      {"t":93.6,"b":22810,"c":23740},{"t":94.1,"b":22910,"c":23830},{"t":94.6,"b":22810,"c":23740},{"t":95.1,"b":22920,"c":23840},{"t":95.6,"b":22820,"c":23750},{"t":96.1,"b":22910,"c":23830},
      {"t":96.6,"b":22810,"c":23740},{"t":97.1,"b":22920,"c":23840},{"t":97.6,"b":22820,"c":23750},{"t":98.1,"b":22910,"c":23830},{"t":98.6,"b":22810,"c":23740},{"t":99.1,"b":22920,"c":23840},
      {"t":99.6,"b":22820,"c":23750},{"t":100.1,"b":22910,"c":23920},{"t":100.6,"b":22810,"c":23820},{"t":101.1,"b":22920,"c":23930},{"t":101.6,"b":22820,"c":23830},{"t":102.1,"b":22910,"c":23920},
      {"t":102.6,"b":22810,"c":23820},{"t":103.1,"b":22920,"c":23930},{"t":103.6,"b":22820,"c":23830},{"t":104.1,"b":22910,"c":23920},{"t":104.6,"b":22840,"c":23860},{"t":106.6,"b":22930,"c":23950},
      {"t":107.1,"b":23030,"c":24060},{"t":115.1,"b":22950,"c":24050},{"t":115.6,"b":22850,"c":23950},{"t":116.1,"b":22950,"c":24060},{"t":116.6,"b":22850,"c":23950},{"t":117.1,"b":22940,"c":24050},
      {"t":117.6,"b":22840,"c":23940},{"t":118.1,"b":22950,"c":24060},{"t":118.6,"b":22850,"c":23950},{"t":119.1,"b":22940,"c":24050},{"t":119.6,"b":22840,"c":23950},{"t":120.1,"b":22870,"c":24100},
      {"t":120.6,"b":22770,"c":24000},{"t":121.1,"b":22870,"c":24110},{"t":121.6,"b":22770,"c":24000},{"t":122.1,"b":22860,"c":24100},{"t":122.6,"b":22770,"c":23990},{"t":123.1,"b":22870,"c":23950},
      {"t":123.6,"b":22770,"c":23850},{"t":124.1,"b":22860,"c":23950},{"t":124.6,"b":22770,"c":23850},{"t":125.1,"b":22870,"c":23950},{"t":127.6,"b":22690,"c":23880},{"t":128.1,"b":22800,"c":23990},
      {"t":128.6,"b":22690,"c":23890},{"t":129.1,"b":22790,"c":23980},{"t":129.6,"b":22690,"c":23880},{"t":130.1,"b":22790,"c":23980}
    ],
    "spots": [
      {"t":0.3,"v":24020},{"t":0.6,"v":23960},{"t":0.9,"v":24050},{"t":1.4,"v":23990},{"t":2.2,"v":24080},{"t":2.8,"v":23940},{"t":3.3,"v":24120},{"t":3.9,"v":24010},
      {"t":4.6,"v":23900},{"t":5.2,"v":24060},{"t":5.8,"v":23950},{"t":6.3,"v":23880},{"t":7.1,"v":23990},{"t":7.7,"v":23840},{"t":8.2,"v":23920},{"t":9.6,"v":23930},
      {"t":11.4,"v":23950},{"t":12.6,"v":23930},{"t":14.4,"v":23940},{"t":17.3,"v":23760},{"t":27.6,"v":23560},
      {"t":29.6,"v":23600},{"t":29.9,"v":23700},{"t":30.0,"v":23520},{"t":30.2,"v":23640},{"t":30.4,"v":23730},{"t":30.55,"v":23620},{"t":30.7,"v":23580},{"t":31.0,"v":23680},
      {"t":31.2,"v":23540},{"t":31.4,"v":23620},{"t":31.5,"v":23760},{"t":31.65,"v":23650},{"t":31.8,"v":23570},{"t":32.0,"v":23690},{"t":32.2,"v":23610},{"t":32.35,"v":23580},
      {"t":32.5,"v":23740},{"t":32.7,"v":23550},{"t":32.9,"v":23660},
      {"t":33.2,"v":23420},{"t":33.35,"v":23520},{"t":33.5,"v":23560},{"t":33.8,"v":23480},{"t":34.1,"v":23380},{"t":34.25,"v":23450},{"t":34.4,"v":23600},{"t":34.7,"v":23500},
      {"t":35.0,"v":23440},{"t":35.15,"v":23500},{"t":35.3,"v":23580},{"t":35.6,"v":23390},{"t":35.9,"v":23520},{"t":36.05,"v":23400},{"t":36.2,"v":23620},{"t":36.5,"v":23460},
      {"t":36.8,"v":23550},{"t":36.95,"v":23580},{"t":37.1,"v":23410},{"t":37.4,"v":23600},{"t":37.7,"v":23490},{"t":37.85,"v":23450},{"t":38.0,"v":23430},{"t":38.3,"v":23570},
      {"t":38.6,"v":23510},{"t":38.75,"v":23380},{"t":38.9,"v":23620},{"t":39.2,"v":23420},{"t":39.5,"v":23540},{"t":39.65,"v":23600},{"t":39.8,"v":23480},
      {"t":40.1,"v":23600},{"t":40.4,"v":23420},{"t":40.55,"v":23480},{"t":40.7,"v":23530},{"t":41.0,"v":23390},{"t":41.3,"v":23560},{"t":41.45,"v":23510},{"t":41.6,"v":23460},
      {"t":41.9,"v":23370},{"t":42.2,"v":23520},{"t":42.35,"v":23350},{"t":42.5,"v":23430},{"t":42.8,"v":23340},{"t":43.1,"v":23490},{"t":43.25,"v":23450},{"t":43.4,"v":23400},
      {"t":43.7,"v":23310},{"t":44.0,"v":23450},{"t":44.15,"v":23380},{"t":44.3,"v":23360},{"t":44.6,"v":23280},{"t":44.9,"v":23410},{"t":45.05,"v":23360},{"t":45.2,"v":23320},
      {"t":45.5,"v":23250},{"t":45.8,"v":23380},{"t":45.95,"v":23290},{"t":46.1,"v":23300},{"t":46.4,"v":23230},{"t":46.7,"v":23350},{"t":46.85,"v":23300},{"t":47.0,"v":23280},
      {"t":47.3,"v":23220},{"t":47.6,"v":23340},{"t":48.0,"v":23260},
      {"t":52.6,"v":23450},{"t":83.2,"v":23000},{"t":98.5,"v":22520},{"t":107.2,"v":22830},
      {"t":121.5,"v":22850},{"t":122.9,"v":22800},{"t":123.2,"v":22880},{"t":123.6,"v":22740},{"t":123.9,"v":22760},{"t":124.1,"v":22840},{"t":124.4,"v":22690},{"t":124.8,"v":22800},
      {"t":125.1,"v":22720},{"t":125.4,"v":22850},{"t":125.55,"v":22780},{"t":125.7,"v":22660},{"t":126.0,"v":22790},{"t":126.3,"v":22700},{"t":126.6,"v":22820},{"t":126.9,"v":22650},
      {"t":127.05,"v":22720},{"t":127.2,"v":22760},{"t":127.5,"v":22700},{"t":127.8,"v":22840},{"t":128.1,"v":22640},{"t":128.4,"v":22770},{"t":128.55,"v":22730},{"t":128.7,"v":22690},
      {"t":129.0,"v":22800},{"t":129.3,"v":22620},{"t":129.6,"v":22740},{"t":129.9,"v":22680},{"t":130.05,"v":22700},{"t":130.2,"v":22780},{"t":130.5,"v":22600},{"t":130.8,"v":22720},{"t":131.1,"v":22650}
    ],
    "bands": [
      {"p":"b","t":4.9,"lo":23760,"hi":24110,"k":"Gap > 2h"},{"p":"b","t":5.1,"lo":23800,"hi":24060,"k":"Gap > 2h"},
      {"p":"b","t":8.9,"lo":23600,"hi":24150,"k":"Gap > 2h"},{"p":"b","t":9.1,"lo":23545,"hi":24200,"k":"Gap > 2h"},{"p":"b","t":9.3,"lo":23620,"hi":24100,"k":"Gap > 2h"},
      {"p":"b","t":45.0,"lo":23350,"hi":23640,"k":"Jump"},{"p":"b","t":45.4,"lo":23320,"hi":23700,"k":"Jump"},{"p":"b","t":45.8,"lo":23360,"hi":23850,"k":"Jump"},{"p":"b","t":46.2,"lo":23380,"hi":23620,"k":"Jump"},
      {"p":"b","t":56.1,"lo":23400,"hi":23700,"k":"Jump"},{"p":"b","t":56.5,"lo":23360,"hi":23860,"k":"Jump"},{"p":"b","t":56.9,"lo":23380,"hi":23740,"k":"Jump"},{"p":"b","t":57.3,"lo":23420,"hi":23680,"k":"Jump"},
      {"p":"b","t":104.8,"lo":22900,"hi":23120,"k":"Jump"},{"p":"b","t":105.3,"lo":22880,"hi":23160,"k":"Jump"},{"p":"b","t":105.8,"lo":22910,"hi":23100,"k":"Jump"},{"p":"b","t":106.2,"lo":22940,"hi":23080,"k":"Jump"},
      {"p":"b","t":107.9,"lo":22800,"hi":23040,"k":"Jump"},{"p":"b","t":108.4,"lo":22760,"hi":23060,"k":"Jump"},{"p":"b","t":108.9,"lo":22790,"hi":23020,"k":"Jump"},{"p":"b","t":109.3,"lo":22830,"hi":23000,"k":"Jump"},
      {"p":"b","t":110.4,"lo":22760,"hi":22990,"k":"Jump"},{"p":"b","t":110.9,"lo":22740,"hi":23010,"k":"Jump"},{"p":"b","t":111.4,"lo":22730,"hi":22970,"k":"Jump"},{"p":"b","t":111.9,"lo":22770,"hi":23000,"k":"Jump"},
      {"p":"b","t":112.4,"lo":22750,"hi":22960,"k":"Jump"},{"p":"b","t":112.8,"lo":22790,"hi":22940,"k":"Jump"},
      {"p":"b","t":113.4,"lo":22760,"hi":22980,"k":"Jump"},{"p":"b","t":113.9,"lo":22740,"hi":23010,"k":"Jump"},{"p":"b","t":114.4,"lo":22780,"hi":22960,"k":"Jump"},
      {"p":"b","t":125.6,"lo":22600,"hi":22850,"k":"Jump"},{"p":"b","t":126.1,"lo":22570,"hi":22880,"k":"Jump"},{"p":"b","t":126.6,"lo":22610,"hi":22830,"k":"Jump"},{"p":"b","t":127.0,"lo":22640,"hi":22800,"k":"Jump"},
      {"p":"b","t":130.8,"lo":22620,"hi":22900,"k":"Jump"},{"p":"b","t":131.2,"lo":22600,"hi":22880,"k":"Jump"},
      {"p":"c","t":4.9,"lo":23870,"hi":24170,"k":"Gap > 2h"},{"p":"c","t":5.1,"lo":23900,"hi":24120,"k":"Gap > 2h"},
      {"p":"c","t":8.9,"lo":23760,"hi":24180,"k":"Gap > 2h"},{"p":"c","t":9.1,"lo":23630,"hi":24200,"k":"Gap > 2h"},{"p":"c","t":9.3,"lo":23740,"hi":24140,"k":"Gap > 2h"},
      {"p":"c","t":45.0,"lo":23860,"hi":24060,"k":"Jump"},{"p":"c","t":45.4,"lo":23840,"hi":24300,"k":"Jump"},{"p":"c","t":45.8,"lo":23850,"hi":24100,"k":"Jump"},{"p":"c","t":46.2,"lo":23880,"hi":24040,"k":"Jump"},
      {"p":"c","t":56.1,"lo":24050,"hi":24260,"k":"Jump"},{"p":"c","t":56.5,"lo":24020,"hi":24480,"k":"Jump"},{"p":"c","t":56.9,"lo":24040,"hi":24330,"k":"Jump"},{"p":"c","t":57.3,"lo":24080,"hi":24250,"k":"Jump"},
      {"p":"c","t":104.8,"lo":23880,"hi":24110,"k":"Jump"},{"p":"c","t":105.3,"lo":23860,"hi":24160,"k":"Jump"},{"p":"c","t":105.8,"lo":23890,"hi":24100,"k":"Jump"},{"p":"c","t":106.2,"lo":23920,"hi":24080,"k":"Jump"},
      {"p":"c","t":107.9,"lo":23800,"hi":24050,"k":"Jump"},{"p":"c","t":108.4,"lo":23780,"hi":24170,"k":"Jump"},{"p":"c","t":108.9,"lo":23810,"hi":24060,"k":"Jump"},{"p":"c","t":109.3,"lo":23840,"hi":24020,"k":"Jump"},
      {"p":"c","t":110.4,"lo":23760,"hi":24010,"k":"Jump"},{"p":"c","t":110.9,"lo":23730,"hi":24080,"k":"Jump"},{"p":"c","t":111.4,"lo":23740,"hi":23990,"k":"Jump"},{"p":"c","t":111.9,"lo":23770,"hi":24020,"k":"Jump"},
      {"p":"c","t":112.4,"lo":23750,"hi":23980,"k":"Jump"},{"p":"c","t":112.8,"lo":23790,"hi":23960,"k":"Jump"},
      {"p":"c","t":113.4,"lo":23780,"hi":24030,"k":"Jump"},{"p":"c","t":113.9,"lo":23760,"hi":24090,"k":"Jump"},{"p":"c","t":114.4,"lo":23800,"hi":24000,"k":"Jump"},
      {"p":"c","t":125.6,"lo":23750,"hi":23990,"k":"Jump"},{"p":"c","t":126.1,"lo":23720,"hi":24050,"k":"Jump"},{"p":"c","t":126.6,"lo":23760,"hi":23980,"k":"Jump"},{"p":"c","t":127.0,"lo":23790,"hi":23950,"k":"Jump"},
      {"p":"c","t":130.8,"lo":23790,"hi":23990,"k":"Jump"},{"p":"c","t":131.2,"lo":23770,"hi":24120,"k":"Jump"}
    ]
  },
  "resolve": {"scale": {"x": "independent", "y": "independent", "color": "shared"}, "legend": {"color": "shared"}},
  "vconcat": [
    {
      "title": "LRa01_MON_E2_5103_102570861_BAR",
      "width": 620,
      "height": 198,
      "resolve": {"axis": {"x": "independent", "y": "independent"}},
      "layer": [
        {
          "data": {"name": "flux"},
          "transform": [{"filter": "isValid(datum.a) && datum.t !== 107.6 && datum.t !== 107.8"}, {"bin": {"step": 1}, "field": "t", "as": "tga"}, {"aggregate": [{"op": "min", "field": "a", "as": "amin"}, {"op": "max", "field": "a", "as": "amax"}], "groupby": ["tga"]}],
          "mark": {"type": "area", "color": "#3c3c3c"},
          "encoding": {
            "x": {"field": "tga", "type": "quantitative", "scale": {"domain": [-1.97, 133.27], "nice": false, "zero": false}, "axis": null},
            "y": {"field": "amin", "type": "quantitative", "scale": {"domain": [22000, 24500], "nice": false, "zero": false}, "axis": null},
            "y2": {"field": "amax"}
          }
        },
        {
          "data": {"name": "flux"},
          "transform": [{"filter": "isValid(datum.a)"}, {"bin": {"step": 1}, "field": "t", "as": "tba"}, {"aggregate": [{"op": "q1", "field": "a", "as": "alo"}, {"op": "q3", "field": "a", "as": "ahi"}], "groupby": ["tba"]}],
          "mark": {"type": "area", "color": "black"},
          "encoding": {
            "x": {"field": "tba", "type": "quantitative", "scale": {"domain": [-1.97, 133.27], "nice": false, "zero": false}, "axis": null},
            "y": {"field": "alo", "type": "quantitative", "scale": {"domain": [22000, 24500], "nice": false, "zero": false}, "axis": null},
            "y2": {"field": "ahi"}
          }
        },
        {
          "data": {"name": "flux"},
          "mark": {"type": "line", "strokeWidth": 0.9, "invalid": "break-paths-show-domains"},
          "encoding": {
            "detail": {"field": "s"},
            "x": {"field": "t", "type": "quantitative", "scale": {"domain": [-1.97, 133.27], "nice": false, "zero": false},
                  "axis": {"orient": "bottom", "values": [0, 20, 40, 60, 80, 100, 120], "format": "d", "tickSize": -15, "labelPadding": 14}},
            "y": {"field": "a", "type": "quantitative", "scale": {"domain": [22000, 24500], "nice": false, "zero": false},
                  "axis": {"orient": "left", "values": [22000, 22500, 23000, 23500, 24000, 24500], "tickSize": -15, "labelPadding": 18, "labelExpr": "format(datum.value / 10000, '.2f') + '×10⁴'"}},
            "color": {
              "datum": "Flux",
              "scale": {"domain": ["Flux", "High jitter (64)", "Gap < 2h", "Gap > 2h", "Jump"], "range": ["#000000", "#ffa500", "#ff0000", "#0000ff", "#30c830"]},
              "legend": {
                "orient": "none", "legendX": 536, "legendY": -19, "title": null,
                "symbolType": "stroke", "symbolSize": 110, "symbolStrokeWidth": 1.5,
                "labelFont": "Liberation Sans", "labelFontSize": 10, "labelOffset": 6,
                "strokeColor": "black", "fillColor": "white", "padding": 4, "rowPadding": 1.5, "cornerRadius": 0,
                "encode": {
                  "labels": {"update": {"fill": {"signal": "scale('color', datum.value)"}}},
                  "symbols": {"update": {"strokeDash": {"signal": "datum.value === 'Flux' ? [1, 0] : [1.5, 2.5]"}}}
                }
              }
            }
          }
        },
        {
          "data": {"name": "spots"},
          "transform": [{"filter": "datum.t >= 29"}],
          "mark": {"type": "square", "size": 5, "opacity": 1},
          "encoding": {
            "x": {"field": "t", "type": "quantitative", "scale": {"domain": [-1.97, 133.27], "nice": false, "zero": false},
                  "axis": {"orient": "top", "values": [0, 20, 40, 60, 80, 100, 120], "tickSize": -15, "labels": false}},
            "y": {"field": "v", "type": "quantitative", "scale": {"domain": [22000, 24500], "nice": false, "zero": false},
                  "axis": {"orient": "right", "values": [22000, 22500, 23000, 23500, 24000, 24500], "tickSize": -15, "labels": false}},
            "color": {"datum": "High jitter (64)", "legend": null}
          }
        },
        {
          "data": {"name": "spots"},
          "transform": [{"filter": "datum.t < 29"}],
          "mark": {"type": "square", "size": 5, "opacity": 1},
          "encoding": {
            "x": {"field": "t", "type": "quantitative", "scale": {"domain": [-1.97, 133.27], "nice": false, "zero": false},
                  "axis": {"orient": "bottom", "values": [5,10,15,25,30,35,45,50,55,65,70,75,85,90,95,105,110,115,125,130], "tickSize": -8, "labels": false, "domain": false}},
            "y": {"field": "v", "type": "quantitative", "scale": {"domain": [22000, 24500], "nice": false, "zero": false},
                  "axis": {"orient": "left", "values": [22100,22200,22300,22400,22600,22700,22800,22900,23100,23200,23300,23400,23600,23700,23800,23900,24100,24200,24300,24400], "tickSize": -8, "labels": false, "domain": false}},
            "color": {"datum": "High jitter (64)", "legend": null}
          }
        },
        {
          "data": {"name": "spots"},
          "mark": {"type": "point", "opacity": 0},
          "encoding": {
            "x": {"field": "t", "type": "quantitative", "scale": {"domain": [-1.97, 133.27], "nice": false, "zero": false},
                  "axis": {"orient": "top", "values": [5,10,15,25,30,35,45,50,55,65,70,75,85,90,95,105,110,115,125,130], "tickSize": -8, "labels": false, "domain": false}},
            "y": {"field": "v", "type": "quantitative", "scale": {"domain": [22000, 24500], "nice": false, "zero": false},
                  "axis": {"orient": "right", "values": [22100,22200,22300,22400,22600,22700,22800,22900,23100,23200,23300,23400,23600,23700,23800,23900,24100,24200,24300,24400], "tickSize": -8, "labels": false, "domain": false}}
          }
        }
      ]
    },
    {
      "title": "LRa01_MON_E2_5103_102570861_BARFILL",
      "width": 620,
      "height": 199,
      "resolve": {"axis": {"x": "independent", "y": "independent"}},
      "layer": [
        {
          "data": {"name": "flux"},
          "transform": [{"bin": {"step": 1}, "field": "t", "as": "tgb"}, {"aggregate": [{"op": "min", "field": "b", "as": "bmin"}, {"op": "max", "field": "b", "as": "bmax"}], "groupby": ["tgb"]}],
          "mark": {"type": "area", "color": "#3c3c3c"},
          "encoding": {
            "x": {"field": "tgb", "type": "quantitative", "scale": {"domain": [-1.97, 133.27], "nice": false, "zero": false}, "axis": null},
            "y": {"field": "bmin", "type": "quantitative", "scale": {"domain": [22000, 24500], "nice": false, "zero": false}, "axis": null},
            "y2": {"field": "bmax"}
          }
        },
        {
          "data": {"name": "flux"},
          "transform": [{"bin": {"step": 1}, "field": "t", "as": "tbb"}, {"aggregate": [{"op": "q1", "field": "b", "as": "blo"}, {"op": "q3", "field": "b", "as": "bhi"}], "groupby": ["tbb"]}],
          "mark": {"type": "area", "color": "black"},
          "encoding": {
            "x": {"field": "tbb", "type": "quantitative", "scale": {"domain": [-1.97, 133.27], "nice": false, "zero": false}, "axis": null},
            "y": {"field": "blo", "type": "quantitative", "scale": {"domain": [22000, 24500], "nice": false, "zero": false}, "axis": null},
            "y2": {"field": "bhi"}
          }
        },
        {
          "data": {"name": "flux"},
          "mark": {"type": "line", "strokeWidth": 0.9, "color": "black"},
          "encoding": {
            "detail": {"field": "s"},
            "x": {"field": "t", "type": "quantitative", "scale": {"domain": [-1.97, 133.27], "nice": false, "zero": false},
                  "axis": {"orient": "bottom", "values": [0, 20, 40, 60, 80, 100, 120], "format": "d", "tickSize": -15, "labelPadding": 14}},
            "y": {"field": "b", "type": "quantitative", "scale": {"domain": [22000, 24500], "nice": false, "zero": false},
                  "axis": {"orient": "left", "values": [22000, 22500, 23000, 23500, 24000, 24500], "tickSize": -15, "labelPadding": 18, "labelExpr": "format(datum.value / 10000, '.2f') + '×10⁴'"}}
          }
        },
        {
          "data": {"name": "flux"},
          "transform": [{"filter": "!datum.k"}],
          "mark": {"type": "square", "size": 5, "opacity": 1},
          "encoding": {
            "x": {"field": "t", "type": "quantitative", "scale": {"domain": [-1.97, 133.27], "nice": false, "zero": false},
                  "axis": {"orient": "top", "values": [0, 20, 40, 60, 80, 100, 120], "tickSize": -15, "labels": false}},
            "y": {"field": "b", "type": "quantitative", "scale": {"domain": [22000, 24500], "nice": false, "zero": false},
                  "axis": {"orient": "right", "values": [22000, 22500, 23000, 23500, 24000, 24500], "tickSize": -15, "labels": false}},
            "color": {"datum": "Gap < 2h", "legend": null}
          }
        },
        {
          "data": {"name": "fills"},
          "mark": {"type": "square", "size": 5, "opacity": 1},
          "encoding": {
            "x": {"field": "t", "type": "quantitative", "scale": {"domain": [-1.97, 133.27], "nice": false, "zero": false}, "axis": null},
            "y": {"field": "b", "type": "quantitative", "scale": {"domain": [22000, 24500], "nice": false, "zero": false}, "axis": null},
            "color": {"datum": "Gap < 2h", "legend": null}
          }
        },
        {
          "data": {"name": "bands"},
          "transform": [{"filter": "datum.p === 'b'"}],
          "mark": {"type": "rule", "strokeWidth": 1.6, "strokeDash": [2, 1]},
          "encoding": {
            "x": {"field": "t", "type": "quantitative", "scale": {"domain": [-1.97, 133.27], "nice": false, "zero": false},
                  "axis": {"orient": "bottom", "values": [5,10,15,25,30,35,45,50,55,65,70,75,85,90,95,105,110,115,125,130], "tickSize": -8, "labels": false, "domain": false}},
            "y": {"field": "lo", "type": "quantitative", "scale": {"domain": [22000, 24500], "nice": false, "zero": false},
                  "axis": {"orient": "left", "values": [22100,22200,22300,22400,22600,22700,22800,22900,23100,23200,23300,23400,23600,23700,23800,23900,24100,24200,24300,24400], "tickSize": -8, "labels": false, "domain": false}},
            "y2": {"field": "hi"},
            "color": {"field": "k", "type": "nominal", "legend": null}
          }
        },
        {
          "data": {"name": "flux"},
          "transform": [{"filter": "datum.k"}],
          "mark": {"type": "square", "size": 5, "opacity": 1},
          "encoding": {
            "x": {"field": "t", "type": "quantitative", "scale": {"domain": [-1.97, 133.27], "nice": false, "zero": false},
                  "axis": {"orient": "top", "values": [5,10,15,25,30,35,45,50,55,65,70,75,85,90,95,105,110,115,125,130], "tickSize": -8, "labels": false, "domain": false}},
            "y": {"field": "b", "type": "quantitative", "scale": {"domain": [22000, 24500], "nice": false, "zero": false},
                  "axis": {"orient": "right", "values": [22100,22200,22300,22400,22600,22700,22800,22900,23100,23200,23300,23400,23600,23700,23800,23900,24100,24200,24300,24400], "tickSize": -8, "labels": false, "domain": false}},
            "color": {"field": "k", "type": "nominal", "legend": null}
          }
        }
      ]
    },
    {
      "title": "LRa01_MON_E2_5103_102570861_SYS",
      "width": 620,
      "height": 186,
      "resolve": {"axis": {"x": "independent", "y": "independent"}},
      "layer": [
        {
          "data": {"name": "flux"},
          "transform": [{"bin": {"step": 1}, "field": "t", "as": "tgc"}, {"aggregate": [{"op": "min", "field": "c", "as": "cmin"}, {"op": "max", "field": "c", "as": "cmax"}], "groupby": ["tgc"]}],
          "mark": {"type": "area", "color": "#3c3c3c"},
          "encoding": {
            "x": {"field": "tgc", "type": "quantitative", "scale": {"domain": [-1.97, 133.27], "nice": false, "zero": false}, "axis": null},
            "y": {"field": "cmin", "type": "quantitative", "scale": {"domain": [23400, 24600], "nice": false, "zero": false}, "axis": null},
            "y2": {"field": "cmax"}
          }
        },
        {
          "data": {"name": "flux"},
          "transform": [{"bin": {"step": 1}, "field": "t", "as": "tbc"}, {"aggregate": [{"op": "q1", "field": "c", "as": "clo"}, {"op": "q3", "field": "c", "as": "chi"}], "groupby": ["tbc"]}],
          "mark": {"type": "area", "color": "black"},
          "encoding": {
            "x": {"field": "tbc", "type": "quantitative", "scale": {"domain": [-1.97, 133.27], "nice": false, "zero": false}, "axis": null},
            "y": {"field": "clo", "type": "quantitative", "scale": {"domain": [23400, 24600], "nice": false, "zero": false}, "axis": null},
            "y2": {"field": "chi"}
          }
        },
        {
          "data": {"name": "flux"},
          "mark": {"type": "line", "strokeWidth": 0.9, "color": "black"},
          "encoding": {
            "detail": {"field": "s"},
            "x": {"field": "t", "type": "quantitative", "scale": {"domain": [-1.97, 133.27], "nice": false, "zero": false},
                  "axis": {"orient": "bottom", "values": [0, 20, 40, 60, 80, 100, 120], "format": "d", "tickSize": -15, "labelPadding": 14, "title": "Time BARTT (days)", "titleFont": "Liberation Sans", "titleFontSize": 10, "titleFontWeight": "normal", "titleColor": "black", "titlePadding": 1}},
            "y": {"field": "c", "type": "quantitative", "scale": {"domain": [23400, 24600], "nice": false, "zero": false},
                  "axis": {"orient": "left", "values": [23400, 23600, 23800, 24000, 24200, 24400, 24600], "tickSize": -15, "labelPadding": 18, "labelExpr": "format(datum.value / 10000, '.2f') + '×10⁴'"}}
          }
        },
        {
          "data": {"name": "flux"},
          "transform": [{"filter": "!datum.k"}],
          "mark": {"type": "square", "size": 5, "opacity": 1},
          "encoding": {
            "x": {"field": "t", "type": "quantitative", "scale": {"domain": [-1.97, 133.27], "nice": false, "zero": false},
                  "axis": {"orient": "top", "values": [0, 20, 40, 60, 80, 100, 120], "tickSize": -15, "labels": false}},
            "y": {"field": "c", "type": "quantitative", "scale": {"domain": [23400, 24600], "nice": false, "zero": false},
                  "axis": {"orient": "right", "values": [23400, 23600, 23800, 24000, 24200, 24400, 24600], "tickSize": -15, "labels": false}},
            "color": {"datum": "Gap < 2h", "legend": null}
          }
        },
        {
          "data": {"name": "fills"},
          "mark": {"type": "square", "size": 5, "opacity": 1},
          "encoding": {
            "x": {"field": "t", "type": "quantitative", "scale": {"domain": [-1.97, 133.27], "nice": false, "zero": false}, "axis": null},
            "y": {"field": "c", "type": "quantitative", "scale": {"domain": [23400, 24600], "nice": false, "zero": false}, "axis": null},
            "color": {"datum": "Gap < 2h", "legend": null}
          }
        },
        {
          "data": {"name": "bands"},
          "transform": [{"filter": "datum.p === 'c'"}],
          "mark": {"type": "rule", "strokeWidth": 1.6, "strokeDash": [2, 1]},
          "encoding": {
            "x": {"field": "t", "type": "quantitative", "scale": {"domain": [-1.97, 133.27], "nice": false, "zero": false},
                  "axis": {"orient": "bottom", "values": [5,10,15,25,30,35,45,50,55,65,70,75,85,90,95,105,110,115,125,130], "tickSize": -8, "labels": false, "domain": false}},
            "y": {"field": "lo", "type": "quantitative", "scale": {"domain": [23400, 24600], "nice": false, "zero": false},
                  "axis": {"orient": "left", "values": [23450,23500,23550,23650,23700,23750,23850,23900,23950,24050,24100,24150,24250,24300,24350,24450,24500,24550], "tickSize": -8, "labels": false, "domain": false}},
            "y2": {"field": "hi"},
            "color": {"field": "k", "type": "nominal", "legend": null}
          }
        },
        {
          "data": {"name": "flux"},
          "transform": [{"filter": "datum.k"}],
          "mark": {"type": "square", "size": 5, "opacity": 1},
          "encoding": {
            "x": {"field": "t", "type": "quantitative", "scale": {"domain": [-1.97, 133.27], "nice": false, "zero": false},
                  "axis": {"orient": "top", "values": [5,10,15,25,30,35,45,50,55,65,70,75,85,90,95,105,110,115,125,130], "tickSize": -8, "labels": false, "domain": false}},
            "y": {"field": "c", "type": "quantitative", "scale": {"domain": [23400, 24600], "nice": false, "zero": false},
                  "axis": {"orient": "right", "values": [23450,23500,23550,23650,23700,23750,23850,23900,23950,24050,24100,24150,24250,24300,24350,24450,24500,24550], "tickSize": -8, "labels": false, "domain": false}},
            "color": {"field": "k", "type": "nominal", "legend": null}
          }
        }
      ]
    }
  ]
}
